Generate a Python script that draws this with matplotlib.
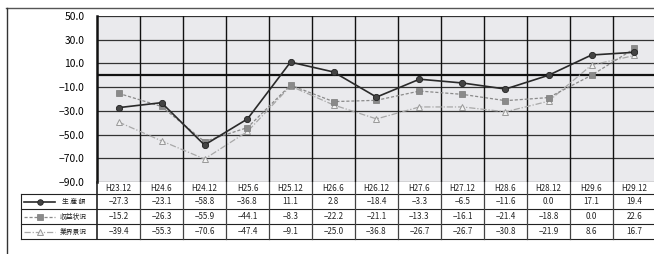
import matplotlib
matplotlib.use("Agg")
import matplotlib.pyplot as plt
from matplotlib.lines import Line2D
import numpy as np

plt.rcParams['font.family'] = ['Noto Sans CJK JP', 'DejaVu Sans']

categories = ["H23.12", "H24.6", "H24.12", "H25.6", "H25.12", "H26.6", "H26.12",
              "H27.6", "H27.12", "H28.6", "H28.12", "H29.6", "H29.12"]
production = [-27.3, -23.1, -58.8, -36.8, 11.1, 2.8, -18.4, -3.3, -6.5, -11.6, 0.0, 17.1, 19.4]
profit = [-15.2, -26.3, -55.9, -44.1, -8.3, -22.2, -21.1, -13.3, -16.1, -21.4, -18.8, 0.0, 22.6]
industry = [-39.4, -55.3, -70.6, -47.4, -9.1, -25.0, -36.8, -26.7, -26.7, -30.8, -21.9, 8.6, 16.7]
series_names = ["生 産 額", "収益状況", "業界景況"]
yticks = [50, 30, 10, -10, -30, -50, -70, -90]

W, H = 654, 254
fig = plt.figure(figsize=(W / 100, H / 100), dpi=100)

# layout in pixels
ax_left, ax_right, ax_top, ax_bottom = 97, 656, 16, 182
ncol = len(categories)
colw = (ax_right - ax_left) / ncol

ax = fig.add_axes([ax_left / W, 1 - ax_bottom / H, (ax_right - ax_left) / W, (ax_bottom - ax_top) / H])
ax.set_facecolor('#eaeaed')
ax.set_xlim(-0.5, ncol - 0.5)
ax.set_ylim(-90, 50)
ax.set_yticks(yticks)
ax.set_yticklabels([f"{v:.1f}".replace('-', '−') for v in yticks], fontsize=7.4)
ax.tick_params(axis='y', length=0, pad=9)
ax.set_xticks([])
for s in ['top', 'right', 'bottom']:
    ax.spines[s].set_visible(False)
ax.spines['left'].set_linewidth(1.8)
ax.spines['left'].set_color('#111111')
for v in yticks:
    ax.axhline(v, color='#333333', lw=0.9, zorder=1)
ax.axhline(0, color='#111111', lw=1.6, zorder=1)
for i in range(1, ncol):
    ax.axvline(i - 0.5, color='#111111', lw=1.0, zorder=1)

x = np.arange(ncol)
styles = [
    dict(color='#2a2a2a', lw=1.2, ls='-', marker='o', ms=4.5, mfc='#444444', mec='#222222', mew=0.6),
    dict(color='#8a8a8a', lw=0.9, ls=(0, (2.5, 1.5)), marker='s', ms=4.5, mfc='#8a8a8a', mec='#7a7a7a', mew=0.5),
    dict(color='#a8a8a8', lw=0.9, ls=(0, (5, 1.5, 1, 1.5)), marker='^', ms=4.5, mfc='#f2f2f2', mec='#999999', mew=0.7),
]
data = [production, profit, industry]
for k in [2, 1, 0]:
    ax.plot(x, data[k], zorder=3 + (2 - k), **styles[k])

# overlay in pixel coordinates for frame and table
ov = fig.add_axes([0, 0, 1, 1], facecolor='none')
ov.set_xlim(0, W)
ov.set_ylim(H, 0)
ov.axis('off')

# outer frame
ov.plot([6, W], [8, 8], color='#555555', lw=1.0)
ov.plot([7, 7], [8, H], color='#333333', lw=1.0)

# table
row_edges = [182, 194, 209, 224, 239]
tab_left = 21
lc = '#222222'
for yy in row_edges[1:]:
    ov.plot([tab_left, ax_right], [yy, yy], color=lc, lw=0.8)
ov.plot([tab_left, tab_left], [row_edges[1], row_edges[-1]], color=lc, lw=0.8)
ov.plot([ax_left, ax_left], [row_edges[0], row_edges[-1]], color=lc, lw=1.2)
for i in range(1, ncol):
    xx = ax_left + i * colw
    ov.plot([xx, xx], [row_edges[0], row_edges[-1]], color='#444444', lw=0.9)

for i, c in enumerate(categories):
    xc = ax_left + (i + 0.5) * colw
    ov.text(xc, (row_edges[0] + row_edges[1]) / 2 + 0.5, c, ha='center', va='center',
            fontsize=5.8, color='#222222')
    for r, ser in enumerate(data):
        yc = (row_edges[r + 1] + row_edges[r + 2]) / 2 + 0.3
        ov.text(xc, yc, f"{ser[i]:.1f}".replace('-', '−'), ha='center', va='center',
                fontsize=5.8, color='#222222')

# legend column
for r in range(3):
    yc = (row_edges[r + 1] + row_edges[r + 2]) / 2
    st = dict(styles[r])
    ov.add_line(Line2D([24, 55], [yc, yc], color=st['color'], lw=st['lw'], ls=st['ls']))
    ov.add_line(Line2D([40], [yc], marker=st['marker'], ms=st['ms'] - 0.5, mfc=st['mfc'],
                       mec=st['mec'], mew=st['mew'], ls='none'))
    ov.text(73.5, yc + 0.3, series_names[r], ha='center', va='center', fontsize=4.9, color='#222222')

fig.savefig('out.png', dpi=100)
